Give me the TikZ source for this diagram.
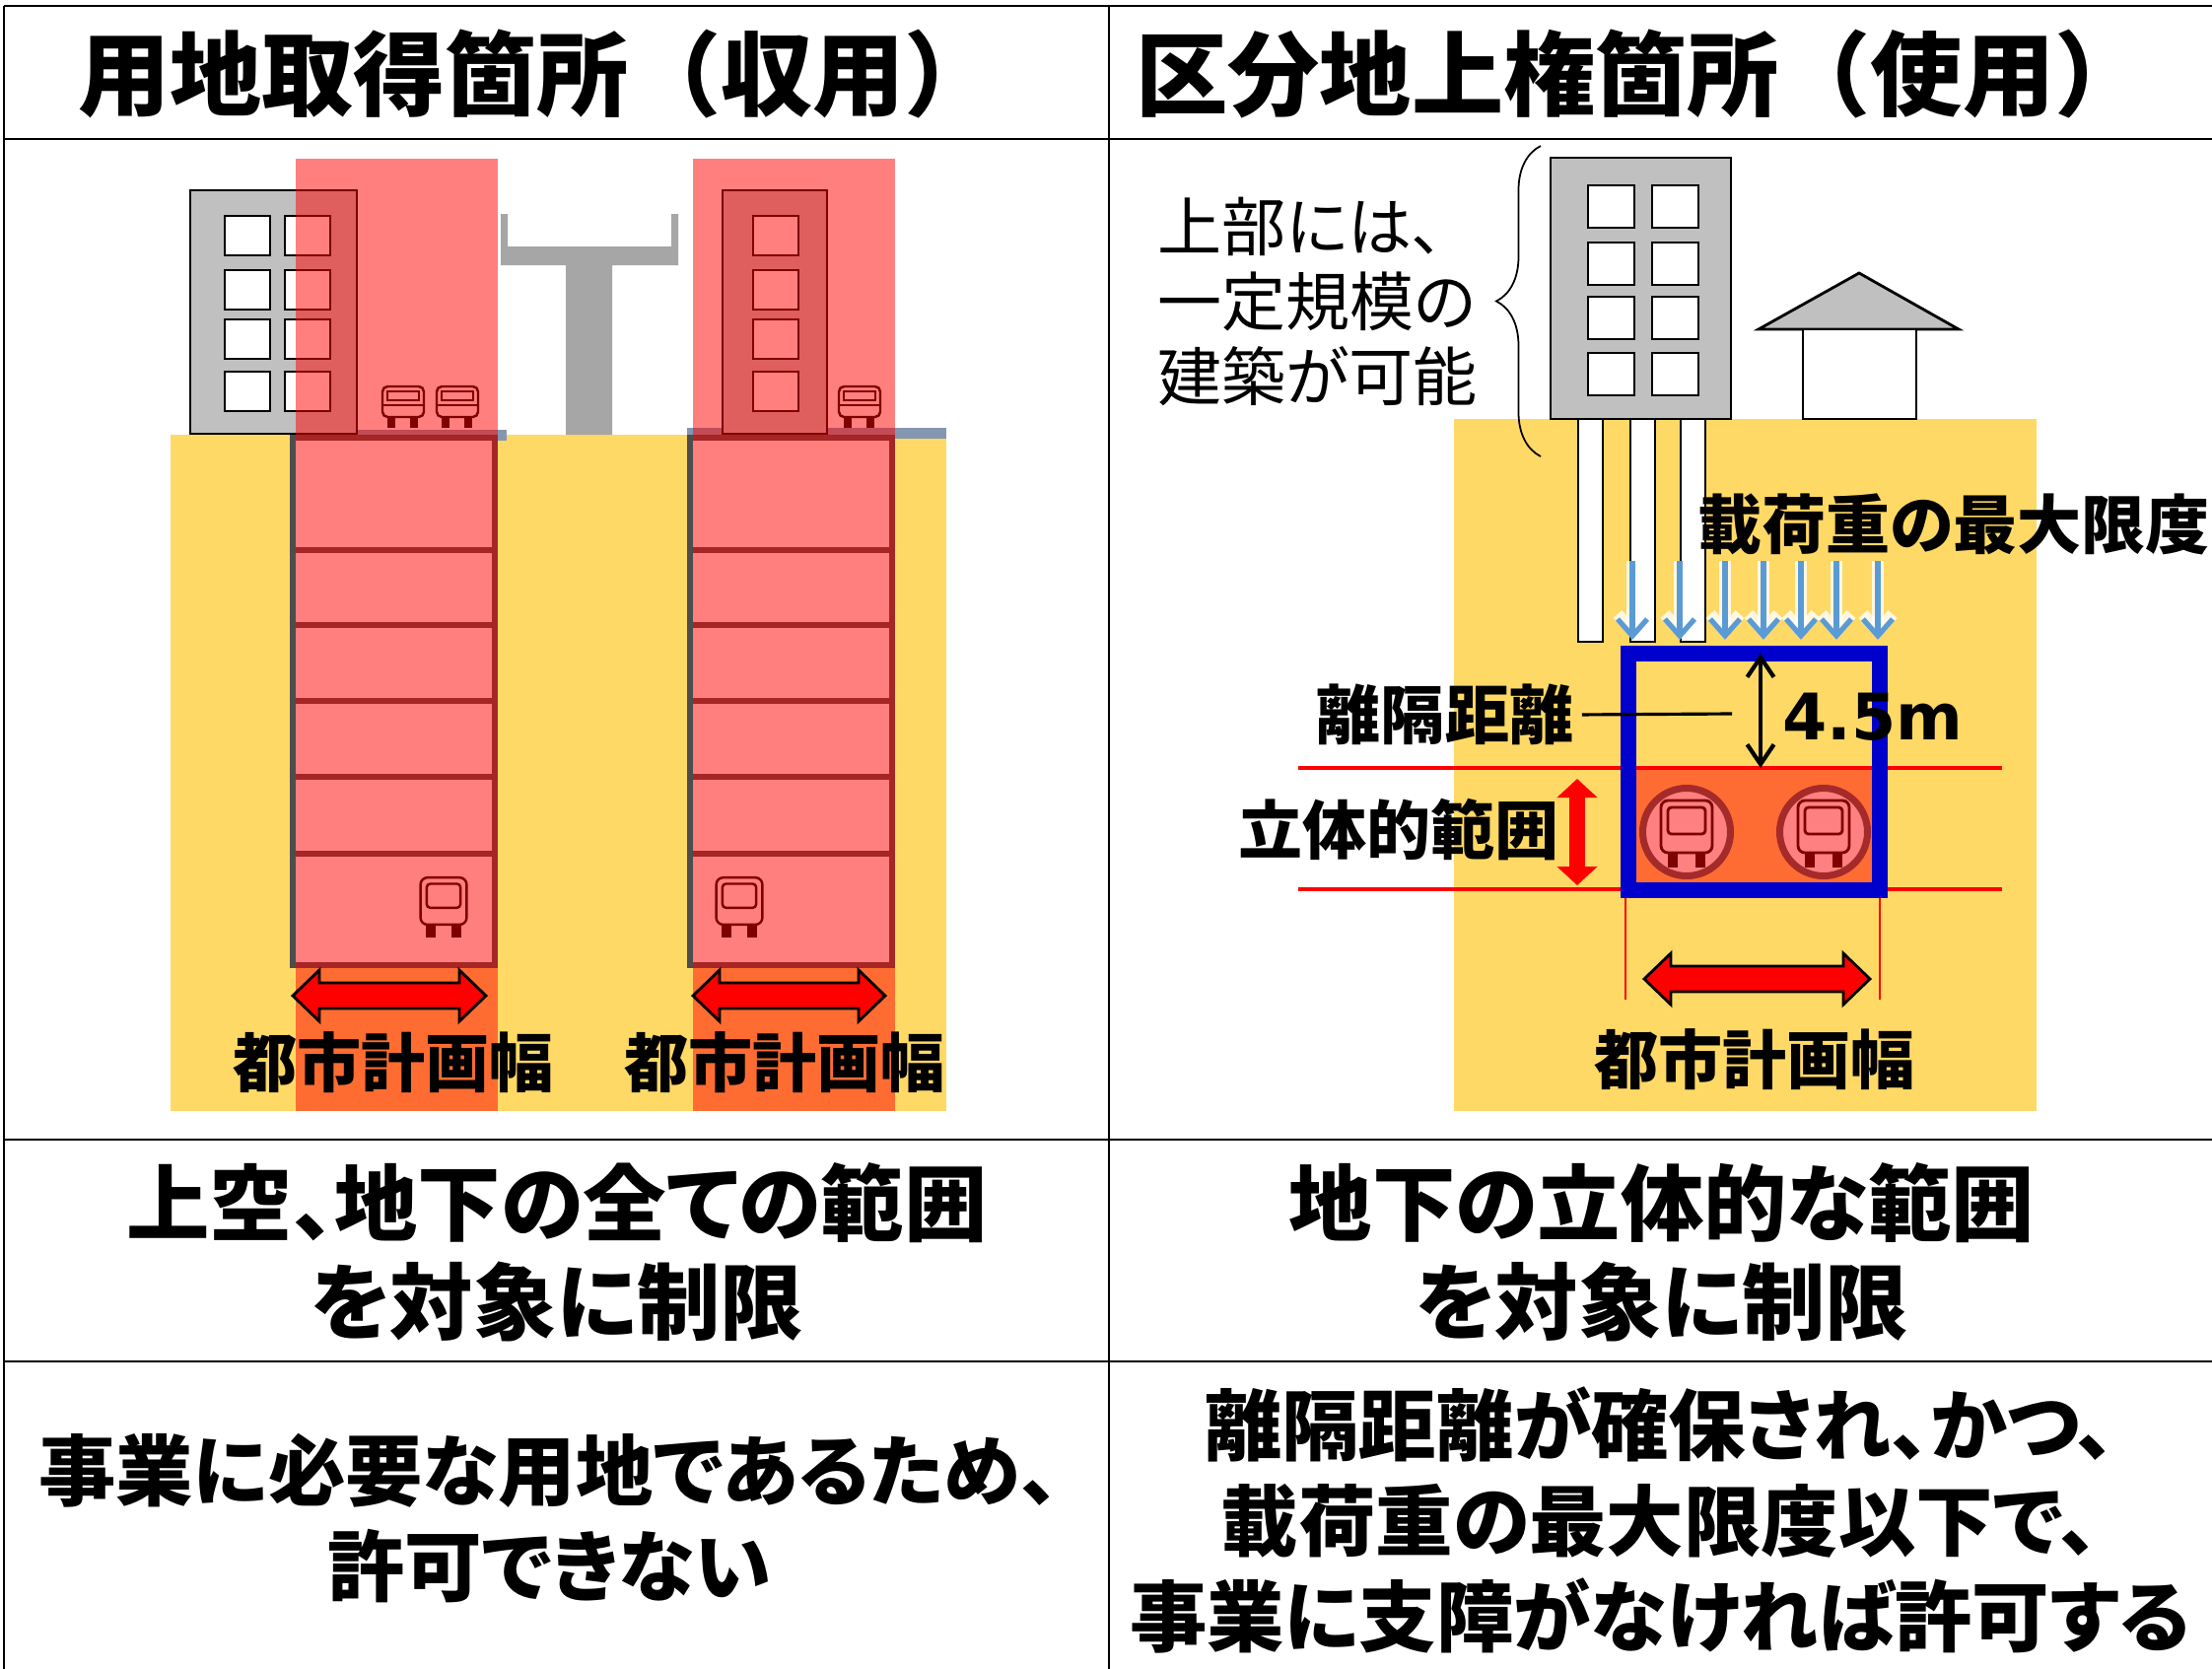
\documentclass[tikz,border=0pt]{standalone}
\usepackage{fontspec}
\usetikzlibrary{arrows.meta,decorations.pathreplacing}
\setmainfont{Noto Sans CJK JP}[BoldFont={* Black},RawFeature=+palt]
\newfontfamily\headfont{Noto Sans CJK JP Black}
\newfontfamily\numfont{DejaVu Sans Bold}

\definecolor{soil}{HTML}{FFD966}
\definecolor{concrete}{HTML}{C0C0C0}
\definecolor{viaduct}{HTML}{A6A6A6}
\definecolor{pavement}{HTML}{8497B0}
\definecolor{wallgray}{HTML}{4D4D4D}
\definecolor{frameblue}{HTML}{0000CC}
\definecolor{loadblue}{HTML}{5B9BD5}
\definecolor{tunnelorange}{HTML}{FF6C33}
\definecolor{ringred}{HTML}{A52A2A}
\definecolor{carpink}{HTML}{FF8080}
\definecolor{cardark}{HTML}{800000}

% fat red double arrow from x=#1 to x=#2 at height #3
\newcommand\widtharrow[3]{%
  \filldraw[fill=red, draw=black, line width=0.8pt]
    (#1,#3) -- ++(27,-26) -- ++(0,13) -- ({#2-27},{#3-13}) -- ++(0,-13) -- (#2,#3)
    -- ++(-27,26) -- ++(0,-13) -- ({#1+27},{#3+13}) -- ++(0,13) -- cycle;}

\begin{document}
\begin{tikzpicture}[x=0.01cm,y=-0.01cm,
  grid/.style={line width=0.65pt},
  head/.style={font=\headfont\fontsize{26.5}{30}\selectfont, inner sep=0pt},
  summary/.style={font=\bfseries\fontsize{24}{28.4}\selectfont, align=center, inner sep=0pt},
  verdict/.style={font=\bfseries\fontsize{22.3}{27.6}\selectfont, align=center, inner sep=0pt},
  tag/.style={font=\bfseries\fontsize{18.5}{22}\selectfont, inner sep=0pt},
  outline/.style={draw=black, line width=0.8pt},
  pane/.style={outline, fill=white},
  floors/.style={draw=wallgray, line width=1.8pt},
  load/.style={-{Straight Barb[length=0.17cm,width=0.3cm]}, line width=1.5pt},
  tramfront/.pic={
    \path[pic actions, rounded corners=1.5pt] (-21,10) -- (-21,-21) -- (21,-21) -- (21,10) -- cycle;
    \path[pic actions] (-16,-16) rectangle (16,-7);
    \path[pic actions] (-21,-2) -- (21,-2);
    \path[pic actions, line width=0.08cm] (-12,10) -- (-12,21) (11,10) -- (11,21);
  },
  trainfront/.pic={
    \path[pic actions, rounded corners=2pt] (-26,21) -- (-26,-32) -- (26,-32) -- (26,21) -- cycle;
    \path[pic actions, rounded corners=1pt] (-19,-25) rectangle (19,2);
    \path[pic actions, line width=0.1cm] (-14,21) -- (-14,36) (14,21) -- (14,36);
  }
]
\useasboundingbox (0,0) rectangle (2244,1693);

% table
\foreach \y in {6,141,1156,1381} \draw[grid] (4,\y) -- (2244,\y);
\foreach \x in {4,1125} \draw[grid] (\x,6) -- (\x,1693);

\node[head] (acqhead) at (545,75) {用地取得箇所（収用）};
\node[head] (usehead) at (1665,75) {区分地上権箇所（使用）};

% left: land acquisition
\fill[soil] (173,441) rectangle (960,1127);
\fill[pavement] (361,436) rectangle (514,447);
\fill[pavement] (697,434) rectangle (960,445);
\foreach \x in {297,700}{
  \fill[white] (\x,444) rectangle ++(205,535);
  \foreach \y in {558,634,711,788,866} \draw[floors] (\x,\y) -- ++(205,0);
  \draw[floors] (\x,444) rectangle ++(205,535);
}
\draw[outline, fill=concrete] (193,193) rectangle (362,440);
\foreach \x in {228,289} \foreach \y in {219,274,324,377}
  \draw[pane] (\x,\y) rectangle ++(46,40);
\draw[outline, fill=concrete] (733,193) rectangle (839,440);
\foreach \y in {219,274,324,377} \draw[pane] (764,\y) rectangle ++(46,40);
\fill[viaduct] (508,217) -- (515,217) -- (515,250) -- (681,250) -- (681,217) -- (688,217)
  -- (688,269) -- (621,269) -- (621,441) -- (574,441) -- (574,269) -- (508,269) -- cycle;
\foreach \x in {409,464,872} \pic[draw=black, fill=white, line width=0.7pt] at (\x,413) {tramfront};
\foreach \x in {450,750} \pic[draw=black, fill=white, line width=0.7pt, scale=0.9] at (\x,919) {trainfront};
\fill[red, opacity=0.5] (300,161) rectangle (505,1127);
\fill[red, opacity=0.5] (703,161) rectangle (908,1127);
\widtharrow{297}{493}{1010}
\widtharrow{703}{898}{1010}
\node[tag] (acqwidth) at (399,1078) {都市計画幅};
\node[tag] (acqwidth2) at (796,1078) {都市計画幅};

% right: sectional surface right
\fill[soil] (1475,425) rectangle (2066,1127);
\draw[outline, fill=concrete] (1573,160) rectangle (1756,425);
\foreach \x in {1611,1676} \foreach \y in {188,246,301,358}
  \draw[pane] (\x,\y) rectangle ++(47,43);
\foreach \x in {1601,1654,1705} \draw[outline, fill=white] (\x,425) rectangle ++(25,226);
\draw[outline, fill=concrete] (1784,334) -- (1886,277) -- (1987,334) -- cycle;
\draw[outline, fill=white] (1829,334) rectangle (1944,425);

\fill[tunnelorange] (1660,779) rectangle (1899,896);
\foreach \y in {779,902} \draw[red, line width=0.9pt] (1317,\y) -- (2031,\y);
\draw[frameblue, line width=4.55pt] (1652,663) rectangle (1907,903);
\foreach \x in {1649,1907} \draw[red, line width=0.7pt] (\x,911) -- (\x,1014);
\foreach \x in {1711,1850}{
  \draw[ringred, fill=carpink, line width=2pt] (\x,844) circle[radius=44.5];
  \pic[draw=cardark, line width=0.8pt] at (\x,844) {trainfront};
}
\foreach \x in {1656,1704,1750,1789,1827,1863,1905}{
  \draw[load, white, line width=3.4pt, opacity=0.8] (\x,569) -- (\x,649);
  \draw[load, loadblue] (\x,569) -- (\x,649);
}

\coordinate (gaptop) at (1786,663);
\coordinate (gapbot) at (1786,779);
\draw[{Straight Barb[length=0.2cm,width=0.27cm]}-{Straight Barb[length=0.2cm,width=0.27cm]}, line width=1.2pt]
  (gaptop) -- (gapbot);
\node[tag] (gaplabel) at (1466,725) {離隔距離};
\coordinate (gapmid) at (1757,724);
\draw[line width=0.9pt, shorten <=0.08cm] (gaplabel.east) -- (gapmid);
\node[tag, font=\numfont\fontsize{18.5}{22}\selectfont] (gapvalue) at (1900,727) {4.5m};

\coordinate (bandtop) at (1600,790);
\coordinate (bandbot) at (1600,898);
\draw[red, line width=4.3pt, {Triangle[length=0.19cm,width=0.4cm]}-{Triangle[length=0.19cm,width=0.4cm]}]
  (bandtop) -- (bandbot);
\node[tag] (bandlabel) at (1419,842) {立体的範囲};

\widtharrow{1668}{1897}{993}
\node[tag] (usewidth) at (1780,1075) {都市計画幅};
\node[tag] (loadlabel) at (1982,532) {載荷重の最大限度};

\node[font=\fontsize{18.5}{21.6}\selectfont, align=left, anchor=west, inner sep=0pt] (upperuse)
  at (1174,306) {上部には、\\一定規模の\\建築が可能};
\draw[decorate, decoration={brace, amplitude=0.45cm}, line width=0.5pt] (1563,463) -- (1563,148);

% bottom rows
\node[summary] (acqscope) at (565,1270) {上空、地下の全ての範囲\\を対象に制限};
\node[summary] (usescope) at (1686,1270) {地下の立体的な範囲\\を対象に制限};
\node[verdict] (acqrule) at (557,1540) {事業に必要な用地であるため、\\許可できない};
\node[verdict] (userule) at (1684,1542) {離隔距離が確保され、かつ、\\載荷重の最大限度以下で、\\事業に支障がなければ許可する};
\end{tikzpicture}
\end{document}
